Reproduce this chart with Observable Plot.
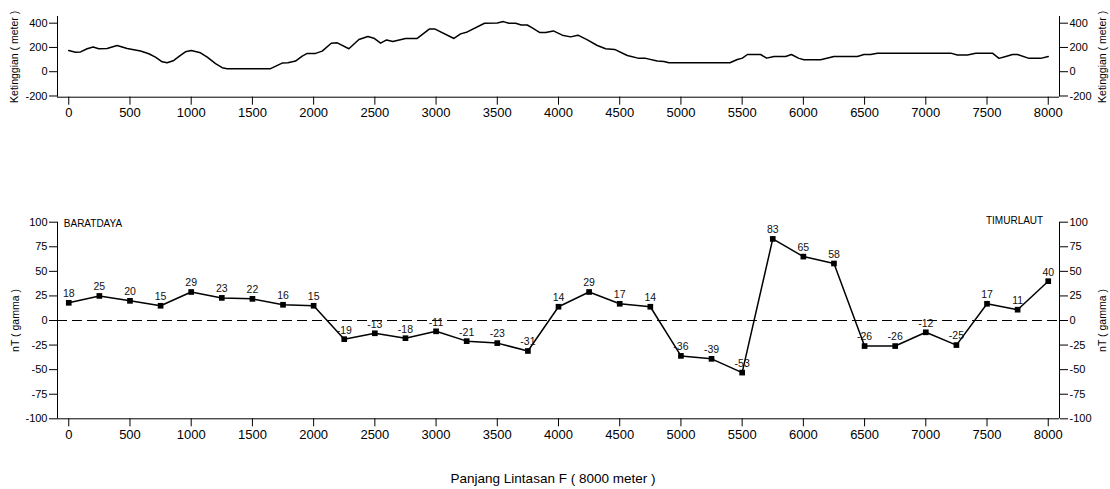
<!DOCTYPE html>
<html>
<head>
<meta charset="utf-8">
<script src="https://cdn.jsdelivr.net/npm/d3@7"></script>
<script src="https://cdn.jsdelivr.net/npm/@observablehq/plot@0.6"></script>
<style>
  body { margin: 0; background: #fff; font-family: "Liberation Sans", Arial, sans-serif; }
  #chart { position: relative; width: 1110px; height: 489px; }
  #profile { position: absolute; left: 0; top: 0; }
  #magnetic { position: absolute; left: 0; top: 190px; }
  #xtitle { position: absolute; left: 0; width: 1106px; top: 471px; text-align: center;
            font-size: 13.5px; color: #000; }
</style>
</head>
<body>
<div id="chart">
  <div id="profile"></div>
  <div id="magnetic"></div>
  <div id="xtitle">Panjang Lintasan F ( 8000 meter )</div>
</div>
<script>
// Elevation profile along the traverse (distance in m, elevation in m)
const profileDist = [0, 55, 96, 150, 199, 245, 313, 395, 477, 586, 654, 708, 763, 804, 858, 912, 953, 1000,
  1076, 1131, 1199, 1253, 1294, 1648, 1743, 1790, 1852, 1907, 1948, 2016, 2070, 2144, 2193, 2288, 2370,
  2443, 2492, 2547, 2596, 2647, 2751, 2846, 2947, 2988, 3146, 3200, 3255, 3396, 3500, 3549, 3595, 3650,
  3696, 3745, 3786, 3848, 3895, 3958, 4031, 4099, 4159, 4236, 4317, 4385, 4458, 4562, 4657, 4712, 4807,
  4861, 4902, 5400, 5461, 5502, 5543, 5651, 5700, 5760, 5855, 5902, 5964, 6005, 6141, 6250, 6441, 6495,
  6550, 6604, 7203, 7258, 7340, 7408, 7544, 7598, 7653, 7708, 7749, 7843, 7939, 8000];
const profileElev = [175, 161, 163, 189, 203, 189, 192, 216, 192, 170, 148, 120, 82, 74, 93, 134, 164, 175,
  156, 120, 66, 33, 25, 25, 71, 74, 88, 129, 151, 151, 170, 235, 238, 189, 265,
  290, 276, 235, 262, 249, 274, 274, 353, 353, 274, 312, 328, 399, 402, 413, 399, 399,
  385, 385, 361, 323, 323, 336, 301, 287, 301, 262, 216, 189, 184, 134, 110, 110, 88,
  85, 74, 74, 101, 112, 142, 142, 112, 126, 126, 142, 110, 98, 98, 126, 126, 142,
  142, 153, 153, 137, 137, 153, 153, 110, 126, 142, 142, 110, 110, 126];

// Total magnetic anomaly stations (distance in m, nT)
const stationDist = [0, 250, 500, 750, 1000, 1250, 1500, 1750, 2000, 2250, 2500, 2750, 3000, 3250, 3500,
  3750, 4000, 4250, 4500, 4750, 5000, 5250, 5500, 5750, 6000, 6250, 6500, 6750, 7000, 7250, 7500, 7750, 8000];
const anomaly = [18, 25, 20, 15, 29, 23, 22, 16, 15, -19, -13, -18, -11, -21, -23,
  -31, 14, 29, 17, 14, -36, -39, -53, 83, 65, 58, -26, -26, -12, -25, 17, 11, 40];

const xTicks = [0, 500, 1000, 1500, 2000, 2500, 3000, 3500, 4000, 4500, 5000, 5500, 6000, 6500, 7000, 7500, 8000];
const elevTicks = [-200, 0, 200, 400];
const anomalyTicks = [-100, -75, -50, -25, 0, 25, 50, 75, 100];

const xDomain = [-92, 8092];
const elevDomain = [-210, 455];
const anomalyDomain = [-100, 100];

const font = "'Liberation Sans', Arial, sans-serif";
const fmt = d => `${d}`;
const baseStyle = { fontFamily: font, color: "#000", background: "transparent", overflow: "visible" };

const profile = profileDist.map((d, i) => ({ d, e: profileElev[i] }));
const stations = stationDist.map((d, i) => ({ d, v: anomaly[i] }));

// Bottom axis, twin left/right value axes and the three frame lines
function frameAxes(yTicks, yDomain) {
  return [
    Plot.axisX({ ticks: xTicks, tickSize: 8, tickPadding: 3, fontSize: 13, tickFormat: fmt, label: null }),
    Plot.axisY({ anchor: "left", ticks: yTicks, tickSize: 8, tickPadding: 2, fontSize: 11, tickFormat: fmt, label: null }),
    Plot.axisY({ anchor: "right", ticks: yTicks, tickSize: 8, tickPadding: 2, fontSize: 11, tickFormat: fmt, label: null }),
    Plot.ruleX(xDomain, { stroke: "#000", strokeWidth: 1 }),
    Plot.ruleY([yDomain[0]], { stroke: "#000", strokeWidth: 1 })
  ];
}

// Rotated axis title on one side of the frame
function sideTitle(label, side, dx) {
  return Plot.text([label], { text: d => d, frameAnchor: side, textAnchor: "middle", lineAnchor: "middle",
    rotate: -90, dx, fontSize: 10.5, fill: "#000" });
}

const profilePlot = Plot.plot({
  width: 1110, height: 130,
  marginLeft: 57, marginRight: 51, marginTop: 16, marginBottom: 33.3,
  style: baseStyle,
  x: { domain: xDomain },
  y: { domain: elevDomain },
  marks: [
    ...frameAxes(elevTicks, elevDomain),
    Plot.line(profile, { x: "d", y: "e", stroke: "#000", strokeWidth: 1.5 }),
    sideTitle("Ketinggian ( meter )", "left", -43),
    sideTitle("Ketinggian ( meter )", "right", 43)
  ]
});
document.getElementById("profile").append(profilePlot);

const magneticPlot = Plot.plot({
  width: 1110, height: 260,
  marginLeft: 57, marginRight: 51, marginTop: 31.7, marginBottom: 31.7,
  style: baseStyle,
  x: { domain: xDomain },
  y: { domain: anomalyDomain },
  marks: [
    ...frameAxes(anomalyTicks, anomalyDomain),
    Plot.ruleY([0], { stroke: "#000", strokeWidth: 1, strokeDasharray: "10,5" }),
    Plot.line(stations, { x: "d", y: "v", stroke: "#000", strokeWidth: 1.5 }),
    Plot.dot(stations, { x: "d", y: "v", symbol: "square", r: 3.2, fill: "#000", stroke: "none" }),
    Plot.text(stations, { x: "d", y: "v", text: d => `${d.v}`, dy: -9, fontSize: 10.5, fill: "#111" }),
    Plot.text(["BARATDAYA"], { text: d => d, frameAnchor: "top-left", textAnchor: "start", dx: 6.3, dy: -2.4, fontSize: 10, fill: "#000" }),
    Plot.text(["TIMURLAUT"], { text: d => d, frameAnchor: "top-right", textAnchor: "end", dx: -16.3, dy: -5, fontSize: 10, fill: "#000" }),
    sideTitle("nT ( gamma )", "left", -42),
    sideTitle("nT ( gamma )", "right", 43.5)
  ]
});
document.getElementById("magnetic").append(magneticPlot);
</script>
</body>
</html>
